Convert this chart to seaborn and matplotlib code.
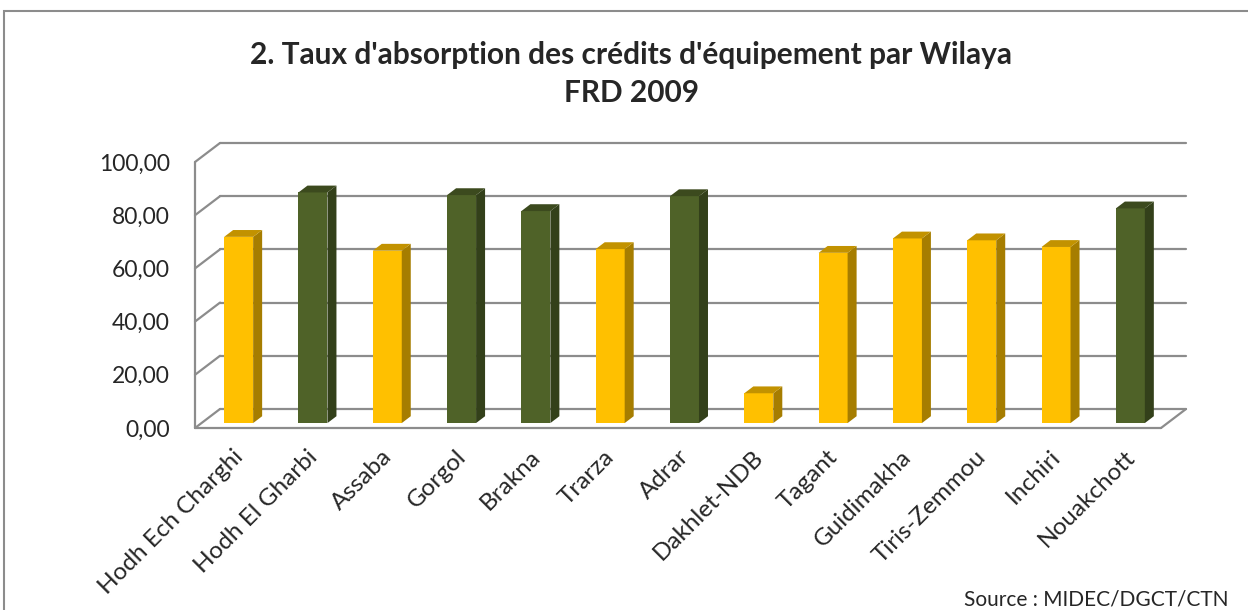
import numpy as np
import pandas as pd
import matplotlib
matplotlib.use("Agg")
import matplotlib.pyplot as plt
import seaborn as sns
from matplotlib.patches import Polygon, Rectangle
from matplotlib.ticker import FuncFormatter

# Data
wilayas = ["Hodh Ech Charghi", "Hodh El Gharbi", "Assaba", "Gorgol", "Brakna",
           "Trarza", "Adrar", "Dakhlet-NDB", "Tagant", "Guidimakha",
           "Tiris-Zemmou", "Inchiri", "Nouakchott"]
taux = [70.0, 86.7, 64.8, 85.7, 79.7, 65.4, 85.3, 11.2, 64.0, 69.4, 68.7, 66.2, 80.7]
groupe = ["jaune", "vert", "jaune", "vert", "vert", "jaune", "vert",
          "jaune", "jaune", "jaune", "jaune", "jaune", "vert"]
yticks = [0, 20, 40, 60, 80, 100]

palette = {"jaune": "#FFC000", "vert": "#4F6228"}
grid_color = "#8C8C8C"

sns.set_style("white")
plt.rcParams['font.family'] = ['Lato', 'DejaVu Sans']

df = pd.DataFrame({"wilaya": wilayas, "taux": taux, "groupe": groupe})

W, H = 1248, 610
fig = plt.figure(figsize=(W / 100, H / 100), dpi=100)
# front plane of the 3D box (pixels): x 195..1161, y 428 (0) .. 162 (100)
left_px, right_px, bot_px, top_px = 195, 1161, 428, 162
ax = fig.add_axes([left_px / W, (H - bot_px) / H,
                   (right_px - left_px) / W, (bot_px - top_px) / H])

n = len(wilayas)
ax.set_xlim(-0.5, n - 0.5)
ax.set_ylim(0, 100)

# depth of the box in pixels -> data units
px_x = (right_px - left_px) / n
px_y = (bot_px - top_px) / 100
depth_x = 25 / px_x
depth_y = 19 / px_y
f_front, f_back = 0.26, 0.62

# back wall gridlines
for v in yticks:
    ax.plot([-0.5 + depth_x, n - 0.5 + depth_x], [v + depth_y, v + depth_y],
            color=grid_color, lw=1.6, zorder=1, clip_on=False)
    # left wall diagonals
    ax.plot([-0.5, -0.5 + depth_x], [v, v + depth_y],
            color=grid_color, lw=1.6, zorder=1, clip_on=False)
# left front edge and floor
ax.plot([-0.5, -0.5], [0, 100], color=grid_color, lw=1.6, zorder=1, clip_on=False)
ax.plot([-0.5, n - 0.5], [0, 0], color=grid_color, lw=1.6, zorder=1, clip_on=False)
ax.plot([n - 0.5, n - 0.5 + depth_x], [0, depth_y], color=grid_color, lw=1.6,
        zorder=1, clip_on=False)

sns.barplot(data=df, x="wilaya", y="taux", hue="groupe", palette=palette,
            dodge=False, width=0.39, saturation=1, legend=False,
            linewidth=0, ax=ax, zorder=3)

# extrude bars: move front face into depth, add side and top faces
dxf, dyf = f_front * depth_x, f_front * depth_y
dxb, dyb = f_back * depth_x, f_back * depth_y
for p in list(ax.patches):
    h = p.get_height()
    if not np.isfinite(h) or h == 0:
        continue
    x0, w = p.get_x(), p.get_width()
    col = np.array(p.get_facecolor()[:3])
    p.set_x(x0 + dxf)
    p.set_y(dyf)
    p.set_clip_on(False)
    x1 = x0 + dxf + w
    side = Polygon([(x1, dyf), (x1, dyf + h), (x0 + dxb + w, dyb + h), (x0 + dxb + w, dyb)],
                   closed=True, facecolor=col * 0.65, edgecolor="none", zorder=3, clip_on=False)
    top = Polygon([(x0 + dxf, dyf + h), (x1, dyf + h), (x0 + dxb + w, dyb + h), (x0 + dxb, dyb + h)],
                  closed=True, facecolor=col * 0.76, edgecolor="none", zorder=3, clip_on=False)
    ax.add_patch(side)
    ax.add_patch(top)

for s in ax.spines.values():
    s.set_visible(False)
ax.set_xlabel("")
ax.set_ylabel("")
ax.set_yticks(yticks)
ax.yaxis.set_major_formatter(FuncFormatter(lambda v, _: f"{v:.2f}".replace(".", ",")))
ax.tick_params(axis="y", length=0, pad=18, labelsize=16.5)
ax.tick_params(axis="x", length=0, pad=13, labelsize=17.5)
plt.setp(ax.get_xticklabels(), rotation=45, ha="right", rotation_mode="anchor")

fig.text(0.506, (H - 74) / H, "2. Taux d'absorption des crédits d'équipement par Wilaya\nFRD 2009",
         ha="center", va="center", fontsize=21.5, fontweight="bold", linespacing=1.45)
fig.text(1228 / W, (H - 600) / H, "Source : MIDEC/DGCT/CTN", ha="right", va="center",
         fontsize=15)

# chart frame (cut off at right and bottom like the source)
fig.patches.append(Rectangle((4 / W, -0.1), 1.2, (H - 11) / H + 0.1,
                             transform=fig.transFigure, fill=False,
                             edgecolor="#8C8C8C", lw=1.5, figure=fig))

fig.savefig("out.png", dpi=100)
